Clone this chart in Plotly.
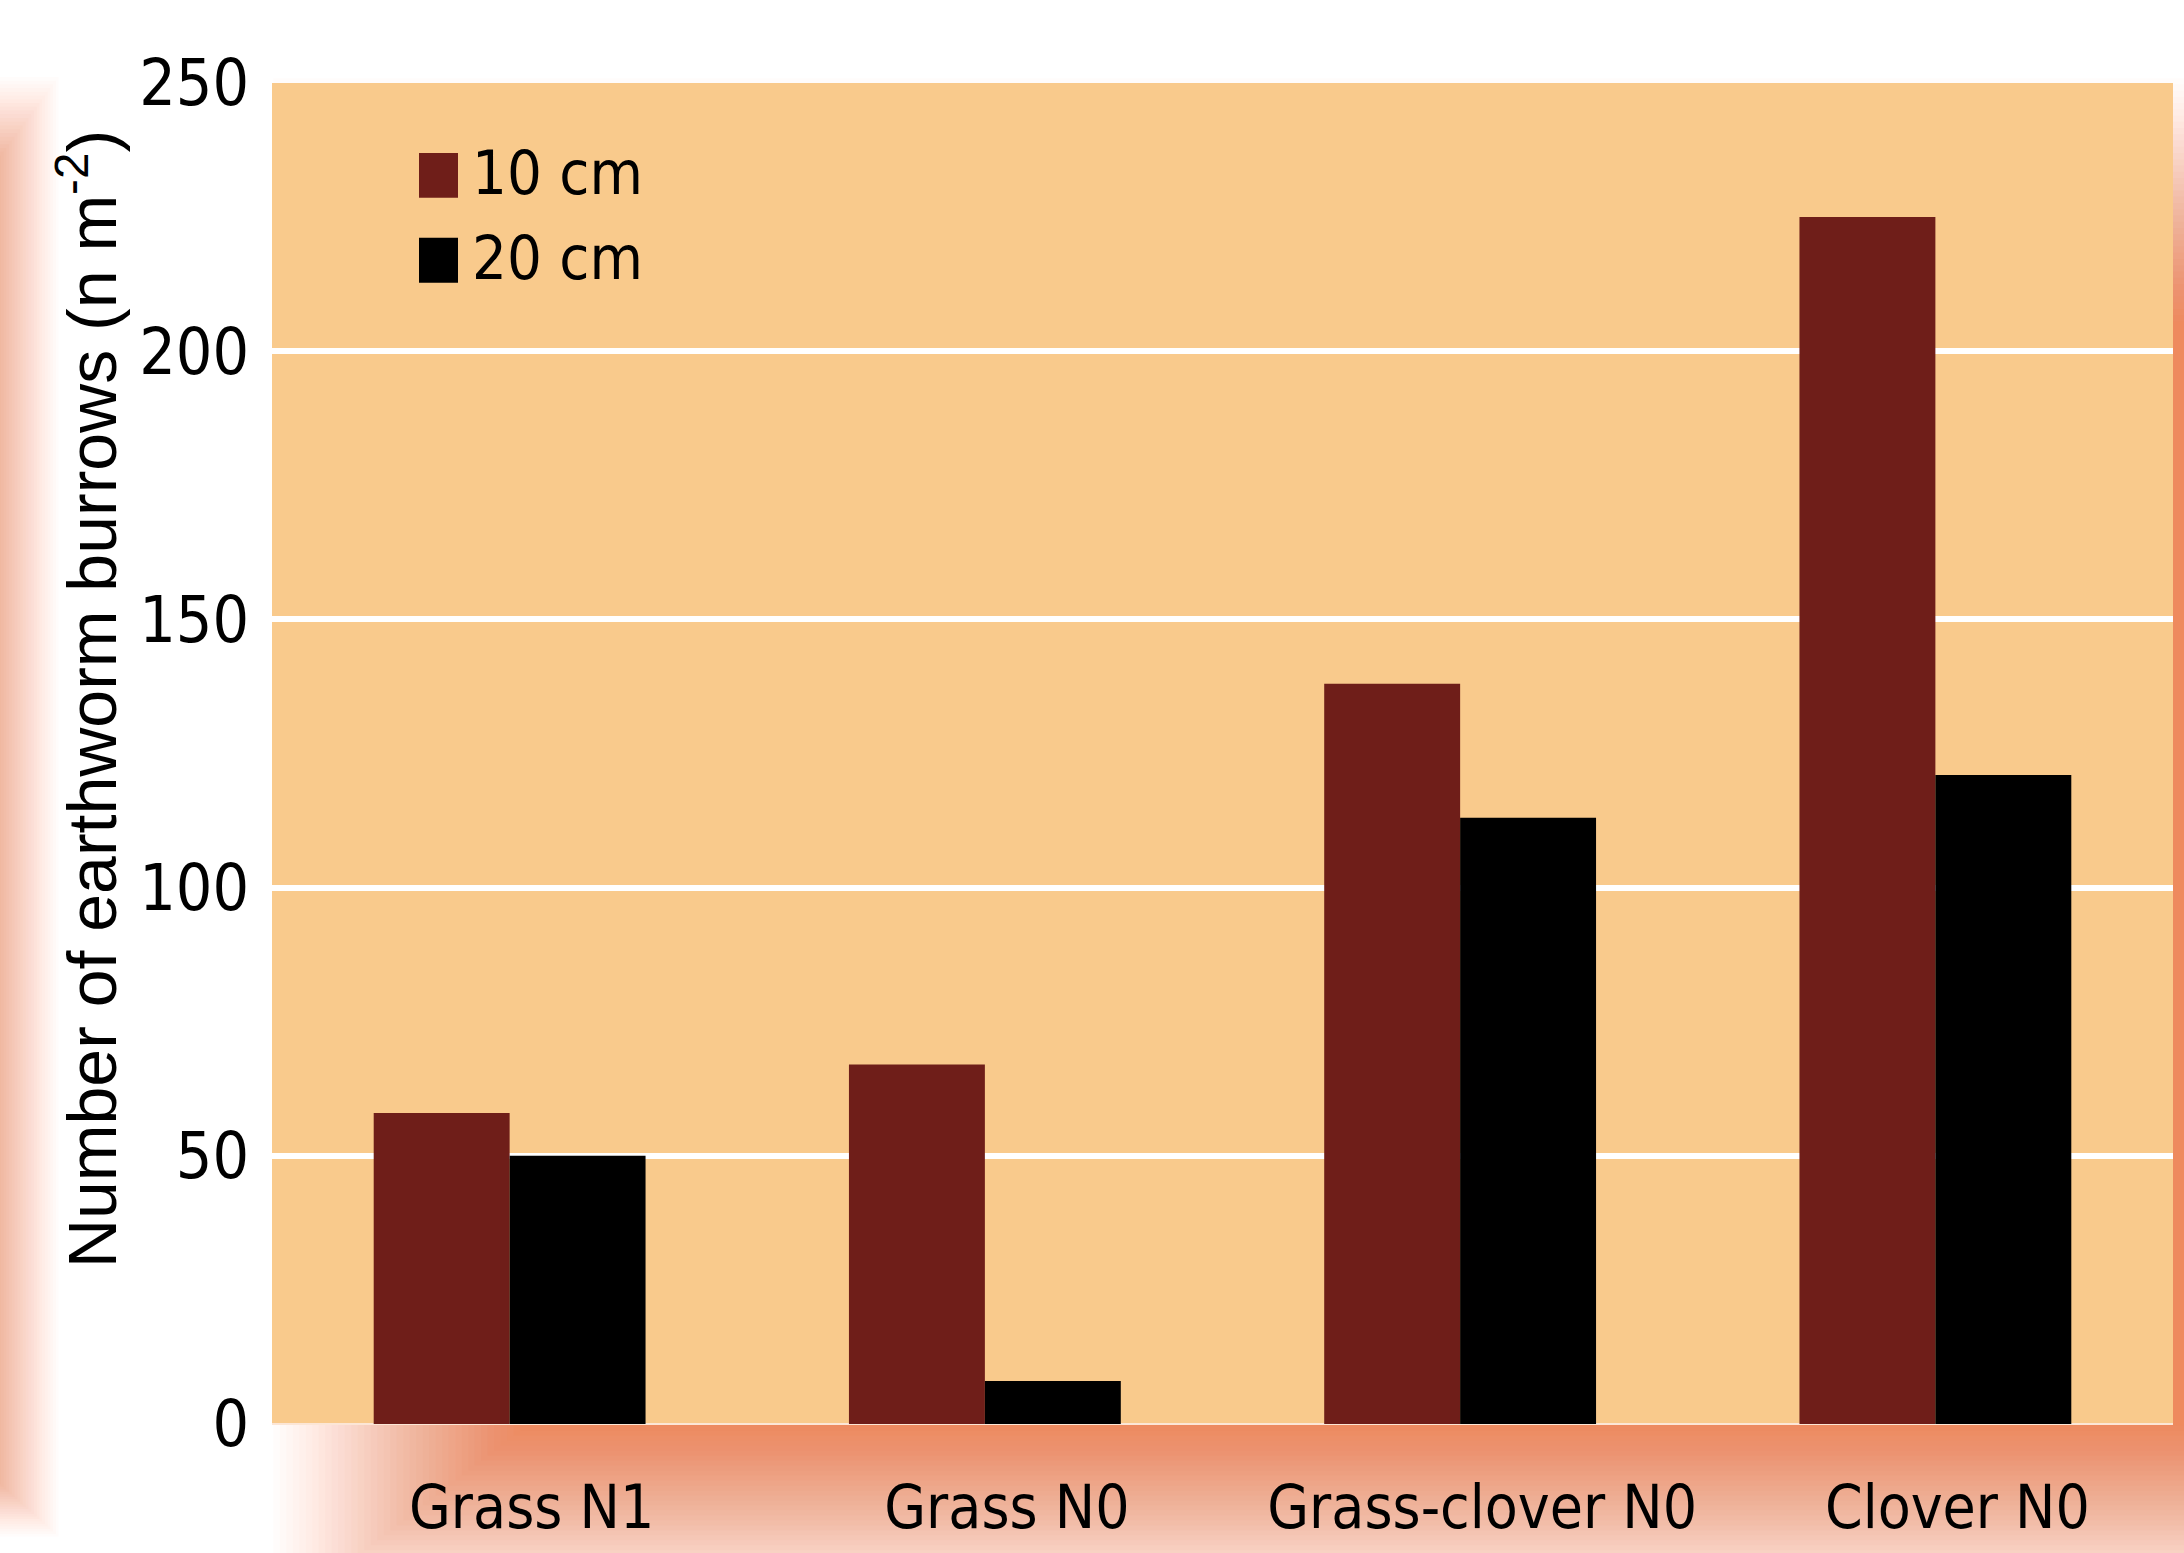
import plotly.graph_objects as go

# ---- data -------------------------------------------------------------
categories = ["Grass N1", "Grass N0", "Grass-clover N0", "Clover N0"]
series_names = ["10 cm", "20 cm"]
burrows_10cm = [58, 67, 138, 225]
burrows_20cm = [50, 8, 113, 121]
y_ticks = [0, 50, 100, 150, 200, 250]

# ---- page geometry (pixels) -------------------------------------------
W, H = 2184, 1553
L, R, T, B = 272, 11, 83, 127
PW, PH = W - L - R, H - T - B

BAR_COLORS = ["#6F1E19", "#000000"]
PLOT_BG = "#F9CA8C"
SHADOW = (238, 138, 94)
NARROW = "DejaVu Sans Condensed, sans-serif"
REGULAR = "Liberation Sans, Arial, sans-serif"


def px_x(x):
    return (x - L) / PW


def px_y(y):
    return (H - B - y) / PH


def soft_rect(x0, y0, x1, y1, spread, color, n=40):
    """Approximate a blurred rectangle with stacked translucent rectangles.
    spread = (left, top, right, bottom) width of the soft edge in pixels;
    opacity ramps linearly across each edge."""
    sl, st, sr, sb = spread
    shapes = []
    for k in range(1, n + 1):
        a = 1.0 / (n - k + 1)
        f = (k - 0.5) / n
        ax0 = x0 - sl / 2 + f * sl
        ax1 = x1 + sr / 2 - f * sr
        ay0 = y0 - st / 2 + f * st
        ay1 = y1 + sb / 2 - f * sb
        shapes.append(dict(
            type="rect", xref="paper", yref="paper", layer="below",
            x0=px_x(ax0), x1=px_x(ax1), y0=px_y(ay1), y1=px_y(ay0),
            fillcolor=f"rgba({color[0]},{color[1]},{color[2]},{a:.4f})",
            line=dict(width=0),
        ))
    return shapes


fig = go.Figure()
for name, vals, col in zip(series_names, [burrows_10cm, burrows_20cm], BAR_COLORS):
    fig.add_trace(go.Bar(
        x=categories, y=vals, name=name,
        marker=dict(color=col, line=dict(width=0)),
        showlegend=False,
    ))

# soft orange backdrop behind the plot panel and glow along the left edge
shapes = []
shapes += soft_rect(400, 200, 2700, 1525, (260, 250, 200, 200), SHADOW)
shapes += soft_rect(-600, 150, 5, 1490, (110, 150, 110, 100), SHADOW)

# the plot panel itself, painted over the backdrop
shapes.append(dict(
    type="rect", xref="paper", yref="paper", layer="below",
    x0=0, x1=1, y0=0, y1=1, fillcolor=PLOT_BG, line=dict(width=0),
))

# legend drawn as square swatches with labels inside the panel
legend_rows = [(153, 198), (238, 283)]
annotations = []
for (ya, yb), name, col in zip(legend_rows, series_names, BAR_COLORS):
    shapes.append(dict(
        type="rect", xref="paper", yref="paper", layer="above",
        x0=px_x(419), x1=px_x(458), y0=px_y(yb), y1=px_y(ya),
        fillcolor=col, line=dict(width=0),
    ))
    annotations.append(dict(
        text=name, xref="paper", yref="paper",
        x=px_x(470), y=px_y((ya + yb) / 2 - 3),
        xanchor="left", yanchor="middle", showarrow=False,
        font=dict(family=NARROW, size=61, color="black"),
    ))

annotations.append(dict(
    text="Number of earthworm burrows (n m<sup>-2</sup>)",
    xref="paper", yref="paper", x=px_x(88), y=px_y(700),
    xanchor="center", yanchor="middle", textangle=-90, showarrow=False,
    font=dict(family=REGULAR, size=68, color="black"),
))

fig.update_layout(
    width=W, height=H,
    margin=dict(l=L, r=R, t=T, b=B, pad=0),
    paper_bgcolor="white",
    plot_bgcolor=PLOT_BG,
    barmode="group",
    bargap=0.428,
    bargroupgap=0,
    shapes=shapes,
    annotations=annotations,
    xaxis=dict(
        showgrid=False, showline=False, zeroline=False, ticks="",
        tickfont=dict(family=NARROW, size=60, color="black"),
        ticklabelstandoff=43,
        ticklabelshift=22,
    ),
    yaxis=dict(
        range=[0, 250], tickvals=y_ticks,
        showgrid=True, gridcolor="white", gridwidth=6,
        zeroline=True, zerolinecolor="#FCE6D6", zerolinewidth=2,
        showline=False, ticks="",
        tickfont=dict(family=NARROW, size=64, color="black"),
        ticklabelstandoff=22,
    ),
)

fig.write_html("out.html")
